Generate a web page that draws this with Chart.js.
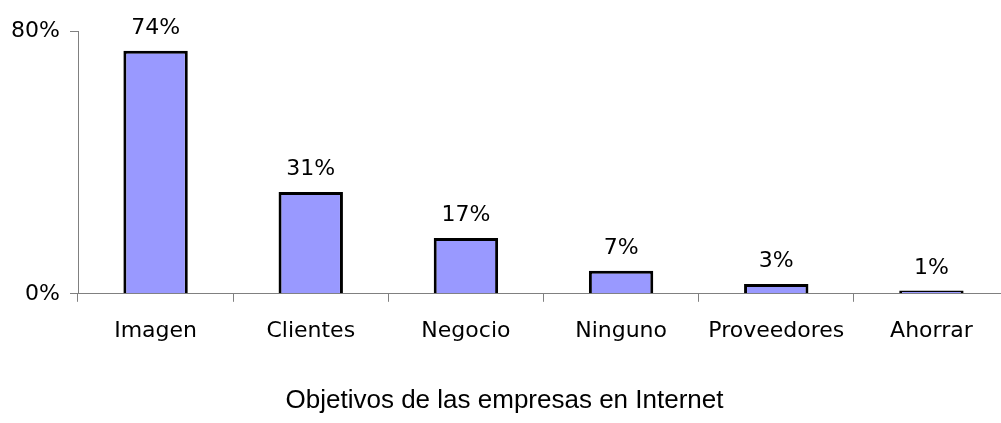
<!DOCTYPE html>
<html>
<head>
<meta charset="utf-8">
<script src="https://cdn.jsdelivr.net/npm/chart.js@4/dist/chart.umd.min.js"></script>
<style>
  html, body { margin: 0; padding: 0; background: #fff; overflow: hidden; }
  #wrap { width: 1010px; height: 423px; }
</style>
</head>
<body>
<div id="wrap"><canvas id="c" width="1010" height="423"></canvas></div>
<script>
const categories = ["Imagen", "Clientes", "Negocio", "Ninguno", "Proveedores", "Ahorrar"];
const values = [74, 31, 17, 7, 3, 1];
const valueLabels = ["74%", "31%", "17%", "7%", "3%", "1%"];
const yTicks = [0, 80];
const chartTitle = "Objetivos de las empresas en Internet";

const valueLabelPlugin = {
  id: 'valueLabels',
  afterDatasetsDraw(chart) {
    const ctx = chart.ctx;
    const meta = chart.getDatasetMeta(0);
    ctx.save();
    ctx.font = '22px "DejaVu Sans"';
    ctx.fillStyle = '#000';
    ctx.textAlign = 'center';
    ctx.textBaseline = 'alphabetic';
    meta.data.forEach((bar, i) => {
      ctx.fillText(valueLabels[i], bar.x, bar.y - 17);
    });
    ctx.restore();
  }
};

new Chart(document.getElementById('c'), {
  type: 'bar',
  data: {
    labels: categories,
    datasets: [{
      data: values,
      backgroundColor: '#9999FF',
      borderColor: '#000000',
      borderWidth: 3,
      barPercentage: 0.415,
      categoryPercentage: 1.0
    }]
  },
  options: {
    responsive: false,
    animation: false,
    devicePixelRatio: 1,
    layout: { padding: { top: 31, left: 0, right: 1, bottom: 0 } },
    plugins: {
      legend: { display: false },
      tooltip: { enabled: false },
      title: {
        display: true,
        text: chartTitle,
        position: 'bottom',
        color: '#000',
        font: { family: '"Liberation Sans", Arial, sans-serif', size: 26, weight: 'normal', lineHeight: 1.2 },
        padding: { top: 0, bottom: 7 }
      }
    },
    scales: {
      x: {
        grid: { display: true, drawOnChartArea: false, drawTicks: true, tickLength: 8, color: '#808080', offset: true },
        border: { display: true, color: '#808080', width: 1 },
        ticks: { color: '#000', font: { family: '"DejaVu Sans"', size: 22 }, padding: 16, maxRotation: 0, autoSkip: false },
        afterFit(scale) { scale.height = 91; }
      },
      y: {
        min: 0,
        max: 80,
        afterBuildTicks(scale) { scale.ticks = yTicks.map(v => ({ value: v })); },
        grid: { display: true, drawOnChartArea: false, drawTicks: true, tickLength: 8, color: '#808080' },
        border: { display: true, color: '#808080', width: 1 },
        ticks: { color: '#000', font: { family: '"DejaVu Sans"', size: 22 }, padding: 10, callback: v => v + '%' },
        afterFit(scale) { scale.width = 78; }
      }
    }
  },
  plugins: [valueLabelPlugin]
});
</script>
</body>
</html>
